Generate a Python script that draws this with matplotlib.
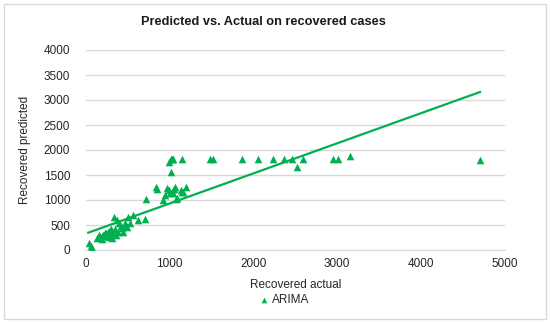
import matplotlib
matplotlib.use("Agg")
import matplotlib.pyplot as plt
from matplotlib.patches import Rectangle

plt.rcParams['font.family'] = ['Liberation Sans', 'DejaVu Sans']

# Data
actual = [42, 60, 72, 141, 173, 193, 212, 232, 252, 272, 292, 312, 331, 352, 340,
          371, 391, 403, 431, 451, 471, 491, 510, 530, 562, 630, 709, 721, 840, 848,
          927, 948, 968, 1007, 1015, 1027, 1047, 1067, 1079, 1087, 1133, 1147, 1167,
          1198, 999, 1019, 1035, 1047, 1147, 1480, 1520, 1862, 2060, 2238, 2370,
          2465, 2521, 2589, 2954, 3013, 3153, 4702, 160, 200, 240, 280, 300, 360,
          420, 470, 1000, 1060]
predicted = [133, 80, 50, 233, 253, 280, 300, 333, 280, 367, 400, 247, 333, 413, 653,
             600, 367, 533, 433, 367, 500, 467, 653, 533, 700, 607, 613, 1027, 1267, 1227,
             1000, 1100, 1233, 1133, 1553, 1167, 1147, 1267, 1013, 1033, 1200, 1167, 1167,
             1267, 1767, 1813, 1813, 1813, 1813, 1813, 1813, 1813, 1813, 1813, 1813,
             1813, 1654, 1813, 1830, 1830, 1887, 1800, 300, 220, 350, 260, 430, 310,
             480, 540, 1200, 1230]

trend_x = [33, 4702]
trend_y = [346, 3160]

x_ticks = [0, 1000, 2000, 3000, 4000, 5000]
y_ticks = [0, 500, 1000, 1500, 2000, 2500, 3000, 3500, 4000]

green = '#00B050'
text_col = '#262626'

fig = plt.figure(figsize=(5.5, 3.23), dpi=100)
fig.patch.set_facecolor('white')
fig.add_artist(Rectangle((4 / 550, 4 / 323), 542 / 550, 315 / 323,
                         transform=fig.transFigure, fill=False,
                         edgecolor='#d9d9d9', linewidth=1.0))

ax = fig.add_axes([85.5 / 550, 73 / 323, 419.5 / 550, 200 / 323])
ax.set_xlim(0, 5000)
ax.set_ylim(0, 4000)
ax.set_xticks(x_ticks)
ax.set_yticks(y_ticks)
ax.tick_params(length=0, labelsize=8.5, colors=text_col)
ax.tick_params(axis='y', pad=11)
ax.tick_params(axis='x', pad=6)
ax.grid(axis='y', color='#d9d9d9', linewidth=1.0)
ax.set_axisbelow(True)
for s in ['top', 'right', 'left']:
    ax.spines[s].set_visible(False)
ax.spines['bottom'].set_color('#d9d9d9')

ax.plot(trend_x, trend_y, color=green, linewidth=1.6, zorder=2)
ax.scatter(actual, predicted, marker='^', s=30, color=green, linewidths=0,
           zorder=3, label='ARIMA')

ax.set_xlabel('Recovered actual', fontsize=8.5, color=text_col, labelpad=6)
ax.set_ylabel('Recovered predicted', fontsize=8.5, color=text_col, labelpad=9)
fig.text(0.5 - 12 / 550, 1 - 22 / 323, 'Predicted vs. Actual on recovered cases',
         ha='center', va='center', fontsize=9.2, fontweight='bold', color='#1a1a1a')

leg = ax.legend(loc='center', bbox_to_anchor=(281 / 550, 1 - 300 / 323),
                bbox_transform=fig.transFigure, frameon=False, fontsize=8.5,
                handletextpad=-0.3, markerscale=0.75, borderpad=0)
for t in leg.get_texts():
    t.set_color(text_col)

fig.savefig('out.png', dpi=100, facecolor='white')
